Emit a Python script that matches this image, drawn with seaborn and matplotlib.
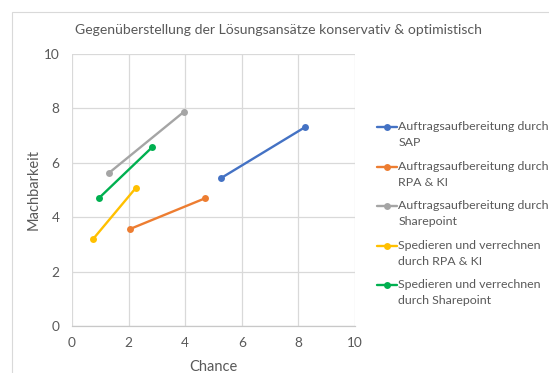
import matplotlib
matplotlib.use("Agg")
import matplotlib.pyplot as plt
import matplotlib.patches as mpatches
from matplotlib.legend_handler import HandlerLine2D
import seaborn as sns
import pandas as pd

# ---- data ----
series = [
    "Auftragsaufbereitung durch\nSAP",
    "Auftragsaufbereitung durch\nRPA & KI",
    "Auftragsaufbereitung durch\nSharepoint",
    "Spedieren und verrechnen\ndurch RPA & KI",
    "Spedieren und verrechnen\ndurch Sharepoint",
]
chance_konservativ = [5.27, 2.06, 1.31, 0.74, 0.94]
chance_optimistisch = [8.25, 4.69, 3.95, 2.25, 2.83]
machbarkeit_konservativ = [5.44, 3.57, 5.63, 3.19, 4.69]
machbarkeit_optimistisch = [7.32, 4.69, 7.87, 5.07, 6.57]
colors = ["#4472C4", "#ED7D31", "#A5A5A5", "#FFC000", "#00B050"]
x_ticks = [0, 2, 4, 6, 8, 10]
y_ticks = [0, 2, 4, 6, 8, 10]
title = "Gegenüberstellung der Lösungsansätze konservativ & optimistisch"

rows = []
for i, s in enumerate(series):
    rows.append({"series": s, "Chance": chance_konservativ[i], "Machbarkeit": machbarkeit_konservativ[i]})
    rows.append({"series": s, "Chance": chance_optimistisch[i], "Machbarkeit": machbarkeit_optimistisch[i]})
df = pd.DataFrame(rows)

sns.set_theme(style="white")
plt.rcParams["font.family"] = ["Lato", "DejaVu Sans"]
txt = "#595959"
grid = "#D9D9D9"

fig = plt.figure(figsize=(5.49, 3.73), dpi=100)
ax = fig.add_axes([72 / 549, 1 - 326 / 373, (355 - 72) / 549, (326 - 54) / 373])

sns.lineplot(data=df, x="Chance", y="Machbarkeit", hue="series", hue_order=series,
             palette=colors, sort=False, marker="o", markersize=5, markeredgewidth=0,
             linewidth=1.7, ax=ax, estimator=None)

ax.set_xlim(0, 10)
ax.set_ylim(0, 10)
ax.set_xticks(x_ticks)
ax.set_yticks(y_ticks)
ax.grid(True, color=grid, linewidth=0.9)
ax.set_axisbelow(True)
for side in ["top", "right", "left"]:
    ax.spines[side].set_visible(False)
ax.spines["bottom"].set_color("#C8C8C8")
ax.spines["bottom"].set_linewidth(0.9)
ax.tick_params(axis="both", length=0, labelsize=9.8, colors=txt)
ax.tick_params(axis="y", pad=9)
ax.tick_params(axis="x", pad=8)
ax.set_xlabel("Chance", fontsize=10.5, color=txt, labelpad=8)
ax.set_ylabel("Machbarkeit", fontsize=10.5, color=txt, labelpad=2)

fig.text(0.507, 1 - 30 / 373, title, ha="center", va="center", fontsize=10.05, color=txt)

# chart border
fig.patches.append(mpatches.Rectangle((12 / 549, -0.1), 1.2, 1.1 - 12 / 373,
                                      transform=fig.transFigure, fill=False,
                                      edgecolor="#D9D9D9", linewidth=0.8))


class UpHandler(HandlerLine2D):
    def create_artists(self, legend, orig_handle, xdescent, ydescent, width, height, fontsize, trans):
        arts = super().create_artists(legend, orig_handle, xdescent, ydescent, width, height, fontsize, trans)
        for a in arts:
            a.set_ydata([y + 0.62 * fontsize for y in a.get_ydata()])
        return arts


old = ax.get_legend()
handles = old.legend_handles
labels = [t.get_text() for t in old.get_texts()]
old.remove()
leg = ax.legend(handles, labels, loc="upper left", bbox_to_anchor=(377 / 549, 1 - 121 / 373),
                bbox_transform=fig.transFigure, frameon=False, fontsize=8.9,
                handlelength=1.6, handletextpad=0.12, labelspacing=1.02, borderaxespad=0,
                borderpad=0, labelcolor=txt,
                handler_map={h: UpHandler() for h in handles})
for t in leg.get_texts():
    t.set_linespacing(1.55)

fig.savefig("out.png", dpi=100)
